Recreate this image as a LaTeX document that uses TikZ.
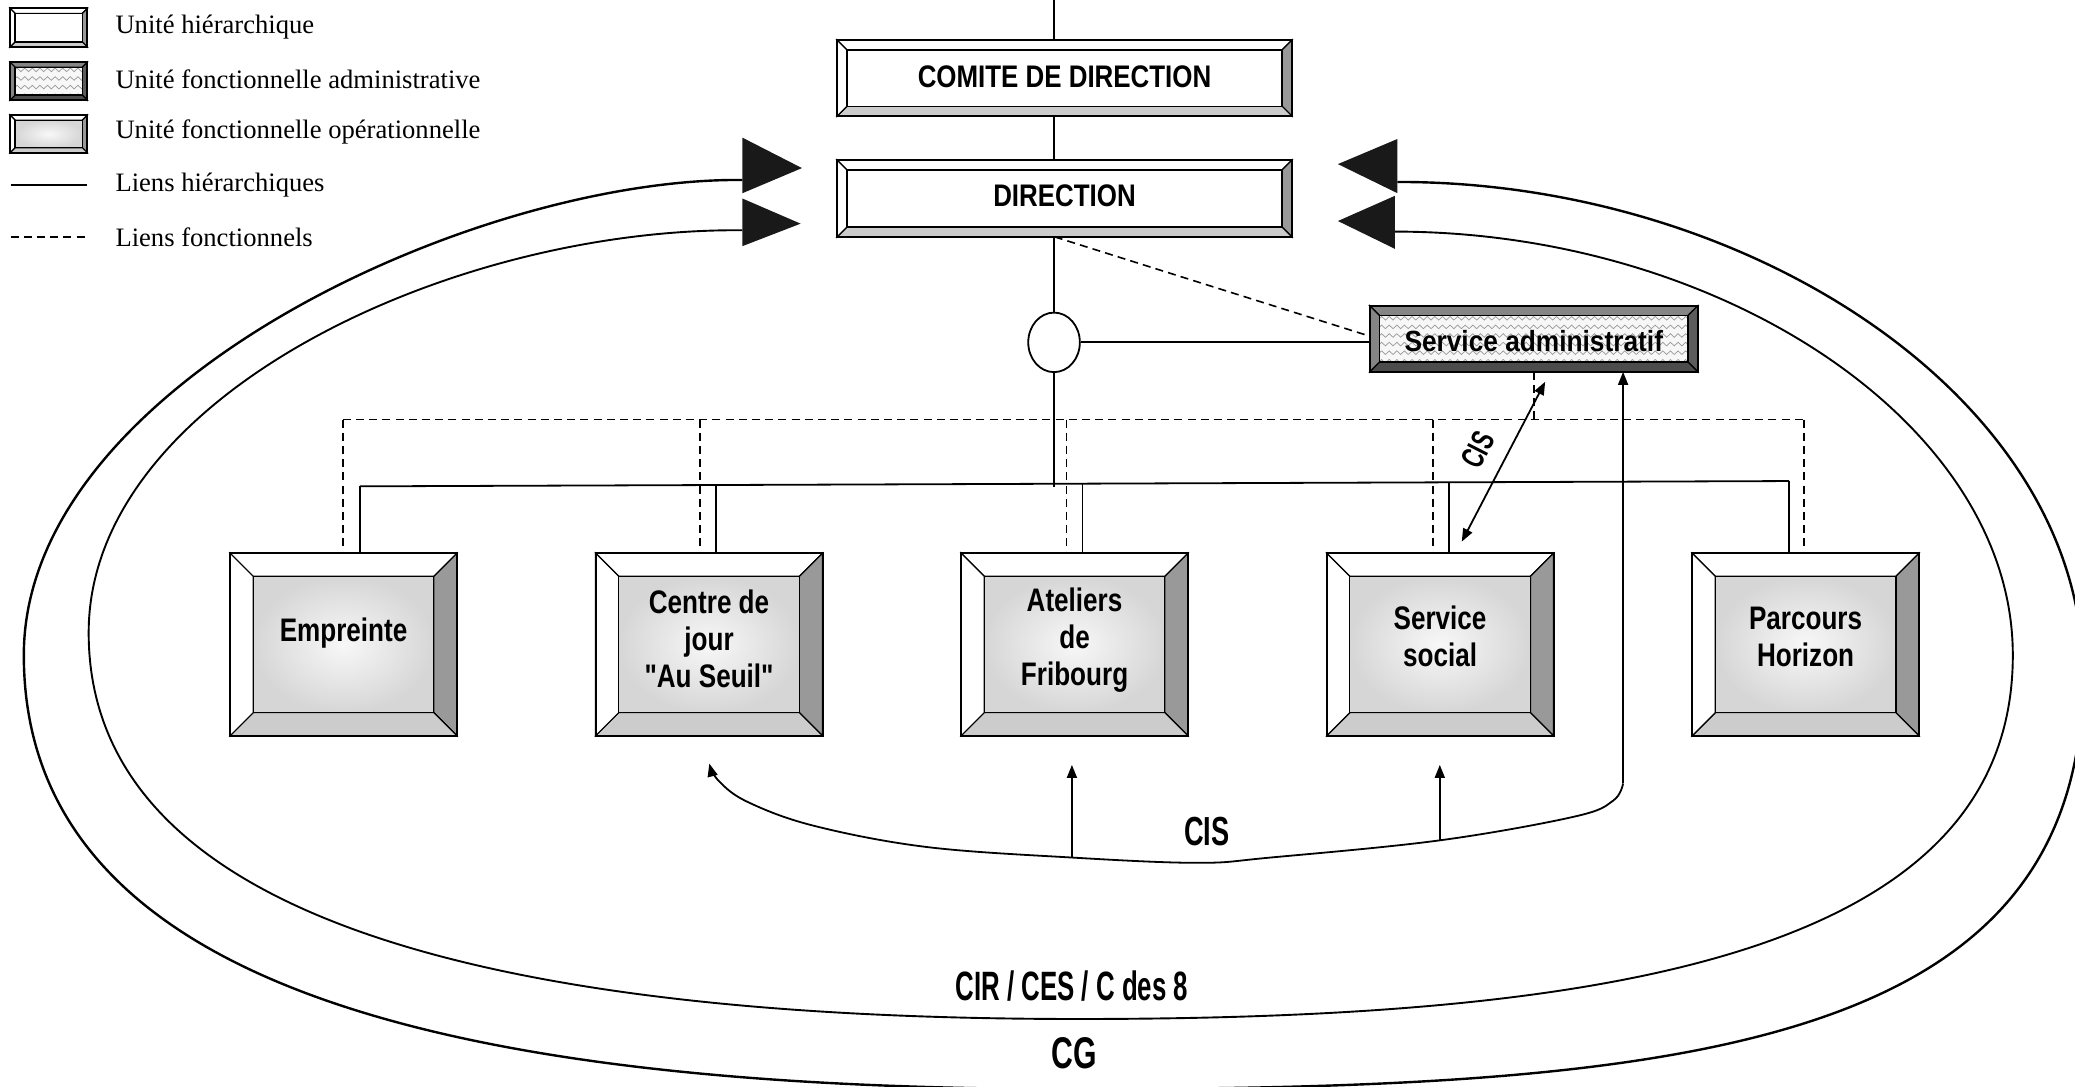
\documentclass[tikz,border=0pt]{standalone}
\usepackage{fontspec}
\setmainfont{Liberation Serif}
\newfontfamily\fontDir[FakeStretch=0.83]{Liberation Sans}
\newfontfamily\fontAdm[FakeStretch=0.9]{Liberation Sans}
\newfontfamily\fontBox[FakeStretch=0.8]{Liberation Sans}
\newfontfamily\fontCIS[FakeStretch=0.67]{Liberation Sans}
\newfontfamily\fontCIR[FakeStretch=0.63]{Liberation Sans}
\newfontfamily\fontCG[FakeStretch=0.68]{Liberation Sans}
\usetikzlibrary{calc,arrows.meta,decorations.pathmorphing,shapes.geometric}
\newcommand\pxu{0.66165pt}
\definecolor{bvR}{gray}{0.6}
\definecolor{bvB}{gray}{0.8}
\definecolor{admTL}{gray}{0.52}
\definecolor{admR}{gray}{0.36}
\definecolor{admB}{gray}{0.3}
% bevel: node, width, top, right, bottom, left
\newcommand\bevel[6]{%
  \path (#1.north west) coordinate (oNW) (#1.north east) coordinate (oNE)
        (#1.south east) coordinate (oSE) (#1.south west) coordinate (oSW);
  \path ($(oNW)+(#2,#2)$) coordinate (iNW) ($(oNE)+(-#2,#2)$) coordinate (iNE)
        ($(oSE)+(-#2,-#2)$) coordinate (iSE) ($(oSW)+(#2,-#2)$) coordinate (iSW);
  \filldraw[bevline,fill=#3] (oNW) -- (oNE) -- (iNE) -- (iNW) -- cycle;
  \filldraw[bevline,fill=#4] (oNE) -- (oSE) -- (iSE) -- (iNE) -- cycle;
  \filldraw[bevline,fill=#5] (oSE) -- (oSW) -- (iSW) -- (iSE) -- cycle;
  \filldraw[bevline,fill=#6] (oSW) -- (oNW) -- (iNW) -- (iSW) -- cycle;
}
\newcommand\plainfill{\filldraw[bevline,fill=white] (iNW) rectangle (iSE);}
\newcommand\marblefill{%
  \shade[inner color=black!3, outer color=black!16] (iNW) rectangle (iSE);
  \draw[bevline] (iNW) rectangle (iSE);}
\newcommand\wavefill[2]{%
  \fill[black!3] (iNW) rectangle (iSE);
  \begin{scope}
    \clip (iNW) rectangle (iSE);
    \foreach \k in {0,...,#1} {\draw[wave] ($(iNW)+(-6,2+\k*#2)$) -- ($(iNE)+(6,2+\k*#2)$);}
  \end{scope}
  \draw[bevline] (iNW) rectangle (iSE);}
\newcommand\outerline[1]{\draw[line width=1pt] (#1.north west) rectangle (#1.south east);}
\begin{document}
\begin{tikzpicture}[x=\pxu,y=-\pxu,
  hline/.style={line width=0.9pt},
  dline/.style={line width=0.8pt, dash pattern=on 4pt off 2.6pt},
  bevline/.style={line width=0.6pt, draw=black},
  geom/.style={rectangle, inner sep=0pt, outer sep=0pt, draw=none},
  wave/.style={draw=black!40, line width=0.35pt, decorate, decoration={snake, segment length=3.8pt, amplitude=0.9pt}},
  tipa/.style={-{Triangle[length=6.5pt,width=5pt]}},
  outloop/.style={line width=1.2pt},
  inloop/.style={line width=0.95pt},
  legtext/.style={anchor=west, inner sep=0pt, font=\fontsize{13.3}{15}\selectfont},
  dirtext/.style={inner sep=0pt, font=\fontDir\bfseries\fontsize{15.6}{18}\selectfont},
  btext/.style={inner sep=0pt, align=center, font=\fontBox\bfseries\fontsize{16.3}{18.5}\selectfont},
  ]
\useasboundingbox (0,0) rectangle (1568,820.65);
\clip (0,0) rectangle (1568,820.65);

% ---------- legend ----------
\node[geom, minimum width=58.4*\pxu, minimum height=29.2*\pxu] (lg1) at (36.8,20.9) {};
\bevel{lg1}{3.8}{white}{bvR}{bvB}{white}\plainfill\outerline{lg1}
\node[geom, minimum width=58.4*\pxu, minimum height=28.6*\pxu] (lg2) at (36.8,61.3) {};
\bevel{lg2}{3.8}{admTL}{admR}{admB}{admTL}\wavefill{3}{6.5}\outerline{lg2}
\node[geom, minimum width=58.4*\pxu, minimum height=28.4*\pxu] (lg3) at (36.8,101.2) {};
\bevel{lg3}{3.8}{white}{bvR}{bvB}{white}\marblefill\outerline{lg3}
\coordinate (lh1) at (8,140); \coordinate (lh2) at (66,140);
\coordinate (lf1) at (8,179); \coordinate (lf2) at (66,179);
\draw[hline] (lh1) -- (lh2);
\draw[dline] (lf1) -- (lf2);
\node[legtext] (lt1) at (87,20.5) {Unité hiérarchique};
\node[legtext] (lt2) at (87,60) {Unité fonctionnelle administrative};
\node[legtext] (lt3) at (87,99.5) {Unité fonctionnelle opérationnelle};
\node[legtext] (lt4) at (87,139.5) {Liens hiérarchiques};
\node[legtext] (lt5) at (87,179) {Liens fonctionnels};

% ---------- big loops ----------
\coordinate (oA) at (561,136);
\coordinate (oL) at (18,495);
\coordinate (oB) at (815,823);
\coordinate (oR) at (1574,510);
\coordinate (oE) at (1056,137.5);
\draw[outloop] (oA) .. controls (360,134) and (18,290) .. (oL)
  .. controls (18,760) and (380,823) .. (oB)
  .. controls (1280,823) and (1574,790) .. (oR)
  .. controls (1574,300) and (1320,137) .. (oE);
\coordinate (iA) at (561,174);
\coordinate (iL) at (67,478);
\coordinate (iB) at (815,770);
\coordinate (iR) at (1521,495);
\coordinate (iE) at (1054,175);
\draw[inloop] (iA) .. controls (340,172) and (67,300) .. (iL)
  .. controls (67,710) and (420,770) .. (iB)
  .. controls (1220,770) and (1521,720) .. (iR)
  .. controls (1521,320) and (1300,175) .. (iE);
\fill[black!90] (561,104) -- (606,127) -- (561,146) -- cycle;
\fill[black!90] (561,150) -- (605,169) -- (561,186) -- cycle;
\fill[black!90] (1056,105) -- (1011,124) -- (1056,146) -- cycle;
\fill[black!90] (1054,148) -- (1011,167) -- (1054,188) -- cycle;

% ---------- boxes ----------
\node[geom, minimum width=343.8*\pxu, minimum height=57.5*\pxu] (com) at (804.4,59) {};
\bevel{com}{7.5}{white}{bvR}{bvB}{white}\plainfill\outerline{com}
\node[dirtext] (comT) at (804.4,58) {COMITE DE DIRECTION};

\node[geom, minimum width=343.8*\pxu, minimum height=58.2*\pxu] (dir) at (804.4,150) {};
\bevel{dir}{7.5}{white}{bvR}{bvB}{white}\plainfill\outerline{dir}
\node[dirtext] (dirT) at (804.4,148) {DIRECTION};

\node[geom, minimum width=248*\pxu, minimum height=50*\pxu] (adm) at (1159,256) {};
\bevel{adm}{7.5}{admTL}{admR}{admB}{admTL}\wavefill{5}{6.5}\outerline{adm}
\node[inner sep=0pt, font=\fontAdm\bfseries\fontsize{14.6}{17}\selectfont] (admT) at (1159,258) {Service administratif};

\foreach \nm/\cx in {emp/259.6, cen/535.8, ate/812, soc/1088.2, par/1364.4} {
  \node[geom, minimum width=171.5*\pxu, minimum height=138*\pxu] (\nm) at (\cx,487) {};
  \bevel{\nm}{17.5}{white}{bvR}{bvB}{white}\marblefill\outerline{\nm}
}
\node[btext] (empT) at (259.6,478) {Empreinte};
\node[btext] (cenT) at (535.8,483) {Centre de\\jour\\"Au Seuil"};
\node[btext] (ateT) at (812,484) {Ateliers\\de\\Fribourg};
\node[btext] (socT) at (1088.2,481) {Service\\social};
\node[btext] (parT) at (1364.4,481) {Parcours\\Horizon};

\node[draw, ellipse, line width=0.9pt, fill=white, inner sep=0pt, minimum width=39*\pxu, minimum height=45*\pxu] (circ) at (796.5,258.7) {};

% ---------- hierarchical links ----------
\coordinate (top) at (796.5,0);
\draw[hline] (top) -- (top |- com.north);
\draw[hline] (com.south -| top) -- (dir.north -| top);
\draw[hline] (dir.south -| top) -- (circ.north);
\coordinate (cbus) at (796.5,368);
\draw[hline] (circ.south) -- (cbus);
\draw[hline] (circ.east) -- (adm.west |- circ.east);
\coordinate (sbL) at (272,367.5);
\coordinate (sbR) at (1352,363.5);
\draw[hline] (sbL) -- (sbR);
\coordinate (sC) at (541,366.5);
\coordinate (sA) at (818,365.5);
\coordinate (sS) at (1095,364.5);
\draw[hline] (sbL) -- (sbL |- emp.north);
\draw[hline] (sC) -- (sC |- cen.north);
\draw[hline] (sA) -- (sA |- ate.north);
\draw[hline] (sS) -- (sS |- soc.north);
\draw[hline] (sbR) -- (sbR |- par.north);

% ---------- functional links ----------
\coordinate (dirS) at (797,179);
\draw[dline] (dirS) -- ($(adm.west)+(0,-2)$);
\coordinate (dbL) at (259,317);
\coordinate (dbR) at (1363,317);
\coordinate (dC) at (529,317);
\coordinate (dA) at (806,317);
\coordinate (dS) at (1083,317);
\coordinate (dAdm) at (1159,317);
\draw[dline] (dbL) -- (dbR);
\draw[dline] (adm.south) -- (dAdm);
\draw[dline] (dbL) -- (dbL |- emp.north);
\draw[dline] (dC) -- (dC |- cen.north);
\draw[dline] (dA) -- (dA |- ate.north);
\draw[dline] (dS) -- (dS |- soc.north);
\draw[dline] (dbR) -- (dbR |- par.north);

% ---------- CIS arrows ----------
\coordinate (caL) at (1104.6,409.3);
\coordinate (caU) at (1167.6,288.5);
\draw[hline, {Triangle[length=6.5pt,width=5pt]}-{Triangle[length=6.5pt,width=5pt]}] (caL) -- (caU);
\node[inner sep=0pt, rotate=63, font=\fontCIS\bfseries\fontsize{16}{18}\selectfont] (cisA) at (1117,340) {CIS};

\coordinate (rv) at (1226.5,592);
\draw[hline, tipa] (rv) -- (rv |- adm.south);
\draw[hline, tipa] plot[smooth, tension=0.6] coordinates {(1226.5,592) (1219,605) (1190,617) (1088,635) (960,648) (905,652) (810,648) (700,640) (615,624) (565,606) (543,590) (536,577)};
\coordinate (va1) at (810,648); \coordinate (va1t) at (810,578);
\coordinate (va2) at (1088,635); \coordinate (va2t) at (1088,578);
\draw[hline, tipa] (va1) -- (va1t);
\draw[hline, tipa] (va2) -- (va2t);
\node[inner sep=0pt, font=\fontCIS\bfseries\fontsize{20.3}{22}\selectfont] (cisB) at (912,628) {CIS};

\node[inner sep=0pt, font=\fontCIR\bfseries\fontsize{20.5}{22}\selectfont] (cir) at (810,745) {CIR / CES / C des 8};
\node[inner sep=0pt, font=\fontCG\bfseries\fontsize{22.2}{24}\selectfont] (cg) at (812,796) {CG};
\end{tikzpicture}
\end{document}
